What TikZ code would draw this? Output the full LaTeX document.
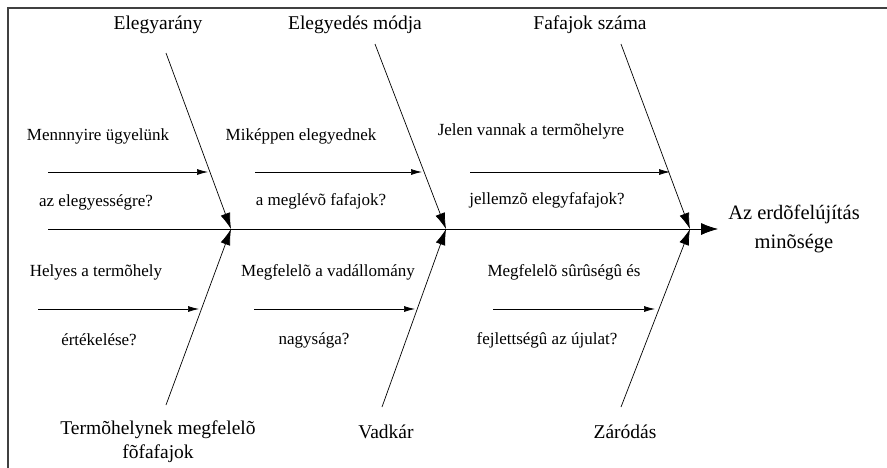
\documentclass[tikz,border=0pt]{standalone}
\usepackage{fontspec}
\setmainfont{Liberation Serif}
\usetikzlibrary{arrows.meta}
\begin{document}
\begin{tikzpicture}[x=1pt,y=-1pt]
\useasboundingbox (0,0) rectangle (887,467);
%%%%%%%%%%%%%%%%%%%%%%%%%%%%%%%%%%%%%%%%%%%%%%%%%%%%%%%%%%%%%%
%FRAME
\draw[line width=1.4pt,color=black!75] (8,475) -- (8,8) -- (895,8);

%%%%%%%%%%%%%%%%%%%%%%%%%%%%%%%%%%%%%%%%%%%%%%%%%%%%%%%%%%%%%%
%styles
\tikzstyle{cause}=[font=\fontsize{19.5}{24}\selectfont,inner sep=0pt]
\tikzstyle{question}=[font=\fontsize{17}{19}\selectfont,inner sep=0pt]
\tikzstyle{bone}=[line width=0.7pt,-{Latex[length=16pt,width=10pt]}]
\tikzstyle{twig}=[line width=0.7pt,-{Latex[length=11pt,width=6pt]}]

%effect
\node[cause,align=center,font=\fontsize{20.5}{29}\selectfont,inner xsep=10pt] (effect) at (794,229) {Az erdõfelújítás\\minõsége};
\coordinate (spine0) at (48,229);

%junctions on the spine
\coordinate (j1) at (231,229);
\coordinate (j2) at (446,229);
\coordinate (j3) at (690,229);

%causes top
\node[cause] (elegyarany) at (158,25) {Elegyarány};
\node[cause] (elegyedes) at (355,25) {Elegyedés módja};
\node[cause] (fafajok) at (590,25) {Fafajok száma};
\coordinate (t1) at (166,53);
\coordinate (t2) at (375,44);
\coordinate (t3) at (621,44);
%causes bottom
\node[cause,align=center] (termohely) at (158,442) {Termõhelynek megfelelõ\\fõfafajok};
\node[cause] (vadkar) at (386,432) {Vadkár};
\node[cause] (zarodas) at (625,432) {Záródás};
\coordinate (b1) at (166,405);
\coordinate (b2) at (382,407);
\coordinate (b3) at (621,407);

%questions top
\node[question] (ugyel1) at (98,136) {Mennnyire ügyelünk};
\node[question] (ugyel2) at (96,202) {az elegyességre?};
\node[question] (mikepp1) at (301,136) {Miképpen elegyednek};
\node[question] (mikepp2) at (321,201) {a meglévõ fafajok?};
\node[question] (jelen1) at (531,131) {Jelen vannak a termõhelyre};
\node[question] (jelen2) at (547,200) {jellemzõ elegyfafajok?};
%questions bottom
\node[question] (helyes1) at (96,272) {Helyes a termõhely};
\node[question] (helyes2) at (99,340) {értékelése?};
\node[question] (vadall1) at (328,272) {Megfelelõ a vadállomány};
\node[question] (vadall2) at (314,340) {nagysága?};
\node[question] (suru1) at (564,272) {Megfelelõ sûrûségû és};
\node[question] (suru2) at (547,340) {fejlettségû az újulat?};

%twig ends
\coordinate (q1a) at (48,172);  \coordinate (q1b) at (208,172);
\coordinate (q2a) at (255,172); \coordinate (q2b) at (422,172);
\coordinate (q3a) at (470,172); \coordinate (q3b) at (670,172);
\coordinate (q4a) at (38,309);  \coordinate (q4b) at (199,309);
\coordinate (q5a) at (254,309); \coordinate (q5b) at (415,309);
\coordinate (q6a) at (493,309); \coordinate (q6b) at (655,309);

%%%%%%%%%%%%%%%%%%%%%%%%%%%%%%%%%%%%%%%%%%%%%%%%%%%%%%%%%%%%%%
%ARROWS
%spine
\draw[line width=0.7pt,-{Latex[length=17pt,width=12pt]}] (spine0) -- (effect.west);
%top bones
\draw[bone] (t1) -- (j1);
\draw[bone] (t2) -- (j2);
\draw[bone] (t3) -- (j3);
%bottom bones
\draw[bone] (b1) -- (j1);
\draw[bone] (b2) -- (j2);
\draw[bone] (b3) -- (j3);
%twigs
\draw[twig] (q1a) -- (q1b);
\draw[twig] (q2a) -- (q2b);
\draw[twig] (q3a) -- (q3b);
\draw[twig] (q4a) -- (q4b);
\draw[twig] (q5a) -- (q5b);
\draw[twig] (q6a) -- (q6b);
\end{tikzpicture}
\end{document}
